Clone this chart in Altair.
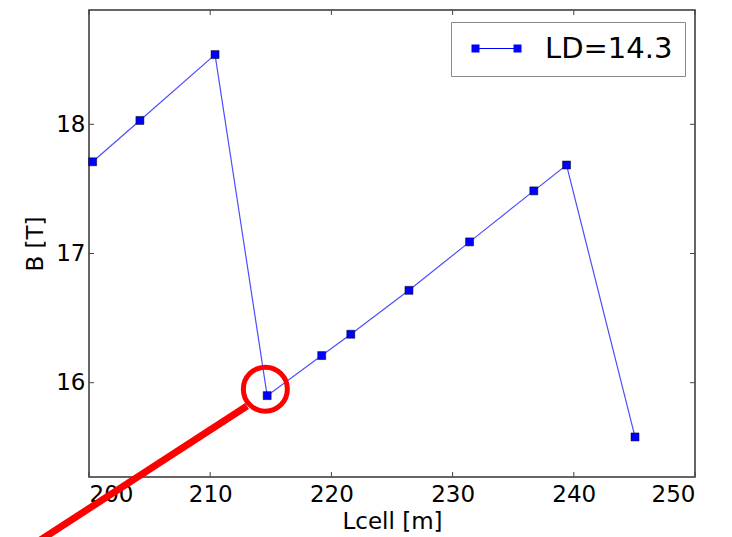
import altair as alt
import pandas as pd

# ---- data ----
lcell = [200.3, 204.2, 210.4, 214.7, 219.2, 221.6, 226.4, 231.4, 236.7, 239.4, 245.05]
bfield = [17.71, 18.03, 18.54, 15.90, 16.21, 16.375, 16.715, 17.09, 17.485, 17.685, 15.58]
series_name = "LD=14.3"

x_ticks = [200, 210, 220, 230, 240, 250]
y_ticks = [16, 17, 18]
x_domain = [200, 250]
y_domain = [15.27, 18.885]

# annotation (red circle and red line), in data units
circle_x = [214.55]
circle_y = [15.95]
arrow_x = [213.04, 195.74]
arrow_y = [15.82, 14.767]

W, H = 606, 467
FONT = "DejaVu Sans"

df = pd.DataFrame({"Lcell": lcell, "B": bfield, "series": [series_name] * len(lcell)})
xt = pd.DataFrame({"t": x_ticks})
yt = pd.DataFrame({"t": y_ticks})
circ = pd.DataFrame({"x": circle_x, "y": circle_y})
arrow = pd.DataFrame({"x": arrow_x, "y": arrow_y, "o": list(range(len(arrow_x)))})

xscale = alt.Scale(domain=x_domain, nice=False, zero=False)
yscale = alt.Scale(domain=y_domain, nice=False, zero=False)

x_enc = alt.X("Lcell:Q", scale=xscale, title="Lcell [m]",
              axis=alt.Axis(values=x_ticks, format="d", ticks=False, tickSize=0,
                            domain=False, grid=False, labelPadding=6, titlePadding=4))
y_enc = alt.Y("B:Q", scale=yscale, title="B [T]",
              axis=alt.Axis(values=y_ticks, format="d", ticks=False, tickSize=0,
                            domain=False, grid=False, labelPadding=4, titlePadding=8))

# legend glyph: square - line - square (10 px per unit, nominal box -1..1)
legend_path = ("M-0.6,-0.4H0.2V0.4H-0.6Z "
               "M0.2,-0.05H3.6V0.05H0.2Z "
               "M3.6,-0.4H4.4V0.4H3.6Z")

color_enc = alt.Color("series:N", scale=alt.Scale(range=["#0000ff"]),
                      legend=alt.Legend(title=None, orient="none", legendX=362, legendY=12,
                                        symbolType=legend_path, symbolSize=400,
                                        symbolStrokeWidth=0, symbolOpacity=1,
                                        labelFontSize=29,
                                        labelFont=FONT, labelColor="black",
                                        labelOffset=53, padding=12,
                                        strokeColor="#8a8a8a", fillColor="white",
                                        cornerRadius=0))

line = alt.Chart(df).mark_line(strokeWidth=1.2, opacity=0.7).encode(
    x=x_enc, y=y_enc, color=color_enc)

points = alt.Chart(df).mark_point(shape="square", filled=True, size=64, opacity=1,
                                  stroke="black", strokeWidth=0.5).encode(
    x="Lcell:Q", y="B:Q", color=alt.Color("series:N", legend=None))

tick_col = "#444444"
bottom_ticks = alt.Chart(xt).mark_rule(color=tick_col, strokeWidth=1).encode(
    x=alt.X("t:Q", scale=xscale), y=alt.value(H), y2=alt.value(H - 5))
top_ticks = alt.Chart(xt).mark_rule(color=tick_col, strokeWidth=1).encode(
    x=alt.X("t:Q", scale=xscale), y=alt.value(0), y2=alt.value(5))
left_ticks = alt.Chart(yt).mark_rule(color=tick_col, strokeWidth=1).encode(
    y=alt.Y("t:Q", scale=yscale), x=alt.value(0), x2=alt.value(5))
right_ticks = alt.Chart(yt).mark_rule(color=tick_col, strokeWidth=1).encode(
    y=alt.Y("t:Q", scale=yscale), x=alt.value(W - 5), x2=alt.value(W))

red_circle = alt.Chart(circ).mark_point(shape="circle", filled=False, size=1936,
                                        stroke="#ff0000", strokeWidth=5, opacity=1).encode(
    x=alt.X("x:Q", scale=xscale), y=alt.Y("y:Q", scale=yscale))

red_line = alt.Chart(arrow).mark_line(color="#ff0000", strokeWidth=7, strokeCap="butt",
                                      clip=False).encode(
    x=alt.X("x:Q", scale=xscale), y=alt.Y("y:Q", scale=yscale), order="o:Q")

chart = alt.layer(
    bottom_ticks, top_ticks, left_ticks, right_ticks, line, points, red_circle, red_line
).properties(
    width=W, height=H,
    padding={"left": 15, "top": 1, "right": 5, "bottom": 0},
).configure_view(
    stroke="#333333", strokeWidth=1.5
).configure_axis(
    labelFont=FONT, labelFontSize=23, labelColor="black",
    titleFont=FONT, titleFontSize=23, titleColor="black", titleFontWeight="normal",
).configure_legend(
    labelFont=FONT
)

chart.save("out.html", embed_options={"renderer": "svg", "actions": False})
